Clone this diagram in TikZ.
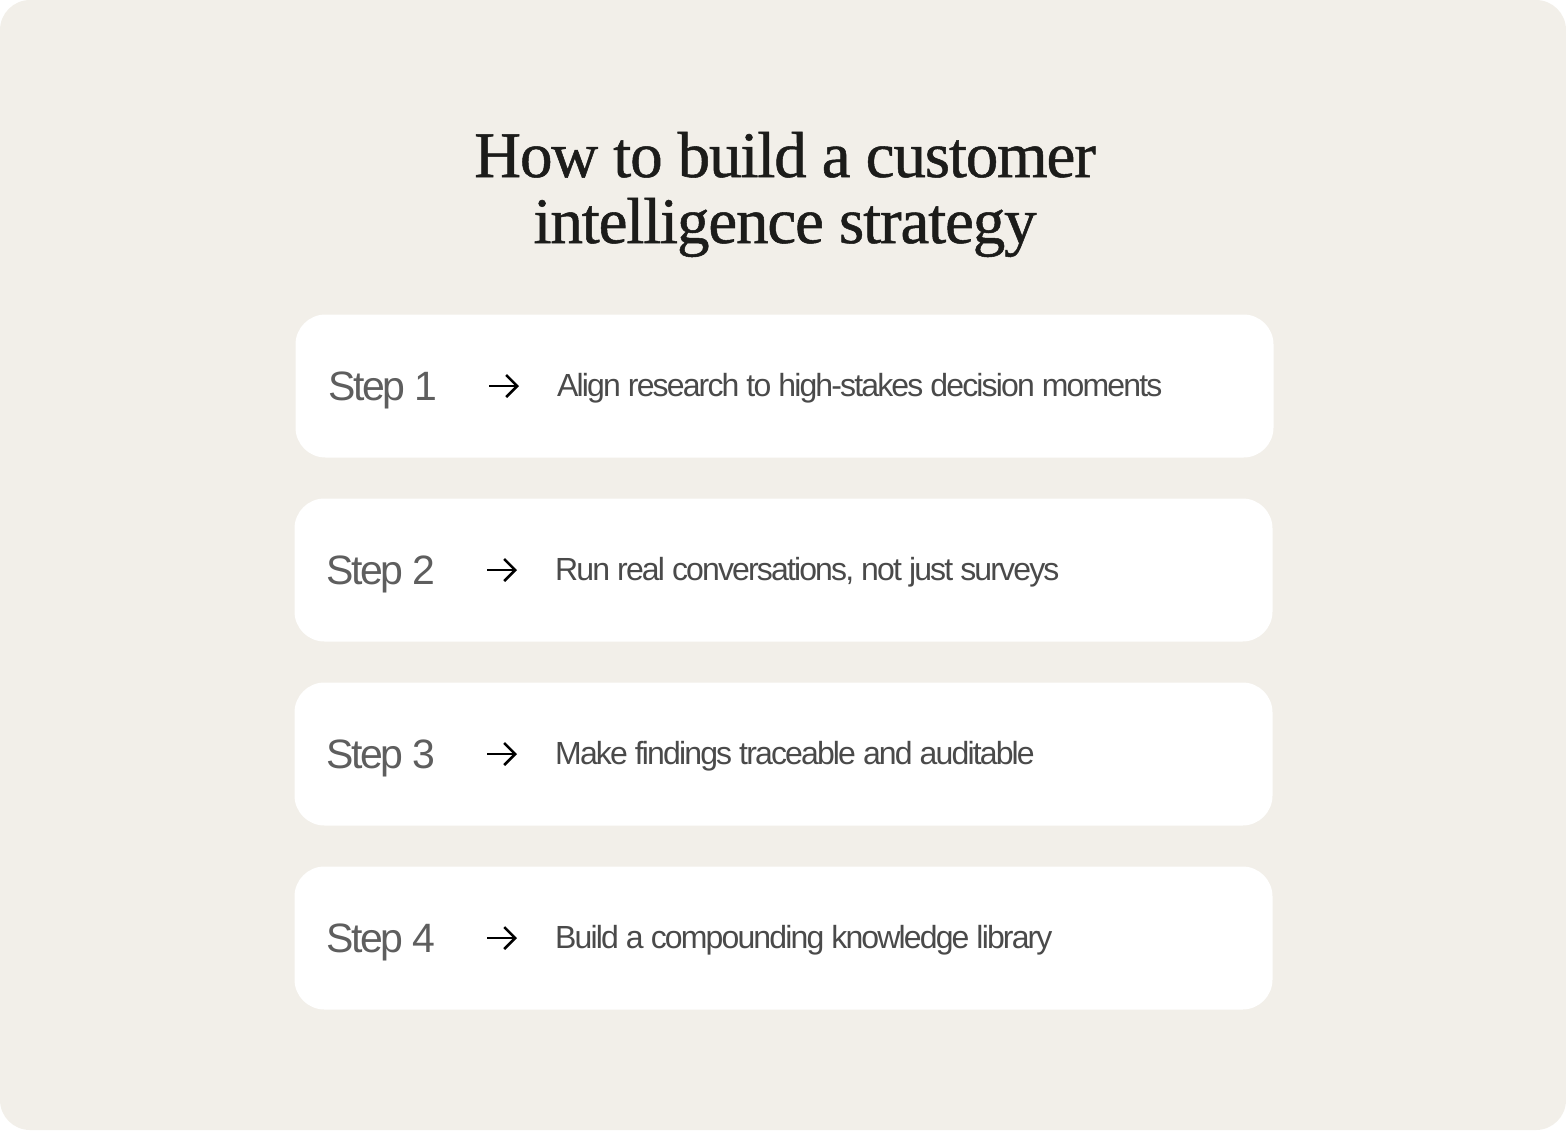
\documentclass[tikz,border=0pt]{standalone}
\usepackage{fontspec}
\usetikzlibrary{arrows.meta}
\setmainfont{Liberation Sans}
\newfontfamily\titlefont[LetterSpace=-1.8,FakeBold=0.8]{Liberation Serif}
\newfontfamily\stepfont[LetterSpace=-6]{Liberation Sans}
\newfontfamily\descfont[LetterSpace=-5.8]{Liberation Sans}
\definecolor{bgbeige}{HTML}{F2EFE9}
\definecolor{titleink}{HTML}{1C1C1A}
\definecolor{stepink}{HTML}{5E5E5E}
\definecolor{descink}{HTML}{4A4A4A}
\tikzset{
  card/.style={fill=white, rounded corners=30pt, minimum width=978pt, minimum height=143pt, inner sep=0pt, draw=none},
  titletext/.style={anchor=base, inner sep=0pt, text=titleink, font=\titlefont\fontsize{65}{66}\selectfont},
  steplabel/.style={anchor=base west, inner sep=0pt, text=stepink, font=\stepfont\fontsize{41}{50}\selectfont},
  arrowline/.style={draw=black, line width=2.5pt, -{Straight Barb[length=11pt, width=22pt, line width=2.5pt]}},
  desctext/.style={anchor=base west, inner sep=0pt, text=descink, font=\descfont\fontsize{32}{38}\selectfont},
}
\begin{document}
\begin{tikzpicture}[x=1pt,y=-1pt]
\useasboundingbox (0,0) rectangle (1566,1130);
\fill[bgbeige, rounded corners=30pt] (0,0) rectangle (1566,1130);
\node[titletext] (t1) at (785,177) {How to build a customer};
\node[titletext] (t2) at (785,243) {intelligence strategy};
% cards
\node[card] (c1) at (784.5,386) {};
\node[card] (c2) at (783.5,570) {};
\node[card] (c3) at (783.5,754) {};
\node[card] (c4) at (783.5,938) {};
% step labels
\node[steplabel] (s1) at (328,400) {Step 1};
\node[steplabel] (s2) at (326,584) {Step 2};
\node[steplabel] (s3) at (326,768) {Step 3};
\node[steplabel] (s4) at (326,952) {Step 4};
% arrows
\coordinate (a1s) at (489,386); \coordinate (a1e) at (519,386);
\coordinate (a2s) at (487,570); \coordinate (a2e) at (517,570);
\coordinate (a3s) at (487,754); \coordinate (a3e) at (517,754);
\coordinate (a4s) at (487,938); \coordinate (a4e) at (517,938);
\draw[arrowline] (a1s) -- (a1e);
\draw[arrowline] (a2s) -- (a2e);
\draw[arrowline] (a3s) -- (a3e);
\draw[arrowline] (a4s) -- (a4e);
% descriptions
\node[desctext] (d1) at (557,396) {Align research to high-stakes decision moments};
\node[desctext] (d2) at (555,580) {Run real conversations, not just surveys};
\node[desctext] (d3) at (555,764) {Make findings traceable and auditable};
\node[desctext] (d4) at (555,948) {Build a compounding knowledge library};
\end{tikzpicture}
\end{document}
